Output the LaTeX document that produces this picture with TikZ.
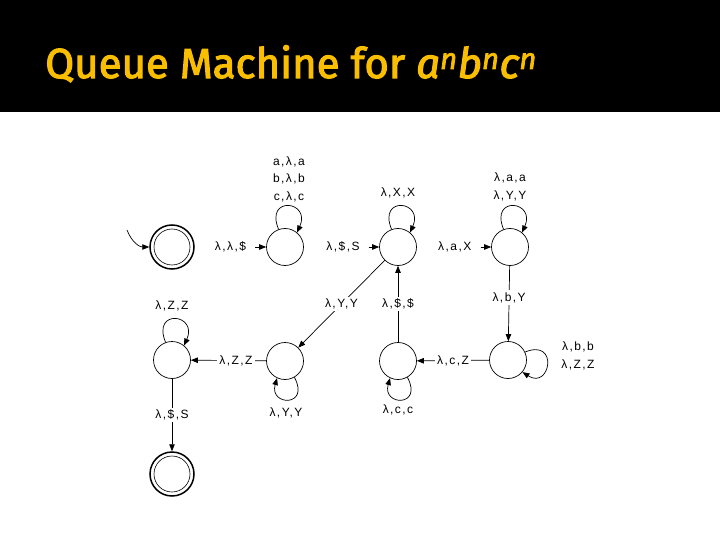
\documentclass[tikz,border=0pt]{standalone}
\usepackage{fontspec}
\setmainfont{Liberation Sans}[LetterSpace=12]
\newfontfamily\titlefont{Fira Sans}[FakeBold=2.5]
\usetikzlibrary{arrows.meta}
\definecolor{gold}{RGB}{250,190,0}
\begin{document}
\begin{tikzpicture}[x=1pt,y=-1pt,
  st/.style={circle,draw,minimum size=37pt,inner sep=0pt,line width=0.7pt},
  acc/.style={circle,draw,minimum size=44pt,inner sep=0pt,line width=1.5pt},
  arr/.style={-{Triangle[length=7pt,width=5.5pt]},line width=0.7pt},
  lab/.style={fill=white,inner sep=2pt,font=\fontsize{12}{17.5}\selectfont,align=center},
  txt/.style={inner sep=1pt,font=\fontsize{12}{17.5}\selectfont,align=center}]
\useasboundingbox (0,0) rectangle (720,540);
\fill[black] (0,0) rectangle (720,112);
\node[anchor=base west,text=gold,inner sep=0pt,font=\titlefont\fontsize{42}{50}\selectfont] (title) at (45,78)
  {Queue Machine for \textit{a\textsuperscript{n}b\textsuperscript{n}c\textsuperscript{n}}};
% states
\node[acc] (n1) at (172,247) {};
\draw[line width=0.6pt] (n1.center) circle[radius=18pt];
\node[st] (n2) at (285,247) {};
\node[st] (n3) at (398,247) {};
\node[st] (n4) at (510,247) {};
\node[st] (n5) at (172,360) {};
\node[st] (n6) at (285,361) {};
\node[st] (n7) at (398,361) {};
\node[st] (n8) at (508,360) {};
\node[acc] (n9) at (172,474) {};
\draw[line width=0.6pt] (n9.center) circle[radius=18pt];
% start arrow
\coordinate (s0) at (127,230);
\draw[arr] (s0) .. controls (132,243) and (140,247) .. (n1.west);
% top row
\path (n1) -- node[txt,pos=0.5] (l12) {λ,λ,\$} (n2);
\draw[arr,shorten <=8pt] (l12) -- (n2);
\path (n2) -- node[txt,pos=0.52] (l23) {λ,\$,S} (n3);
\draw[arr,shorten <=8pt] (l23) -- (n3);
\path (n3) -- node[txt,pos=0.51] (l34) {λ,a,X} (n4);
\draw[arr,shorten <=8pt] (l34) -- (n4);
% vertical / diagonal
\draw[arr] (n4) -- node[lab,pos=0.42] {λ,b,Y} (n8);
\draw[arr] (n7) -- node[lab,pos=0.5] {λ,\$,\$} (n3);
\draw[arr] (n3) -- node[lab,pos=0.5] {λ,Y,Y} (n6);
\draw[arr] (n8) -- node[lab,pos=0.5] {λ,c,Z} (n7);
\draw[arr] (n6) -- node[lab,pos=0.4] {λ,Z,Z} (n5);
\draw[arr] (n5) -- node[lab,pos=0.5] {λ,\$,S} (n9);
% loops
\draw[arr] (n2.110) .. controls +(-14,-34) and +(14,-32) .. (n2.50);
\draw[arr] (n3.110) .. controls +(-14,-34) and +(14,-32) .. (n3.50);
\draw[arr] (n4.110) .. controls +(-14,-34) and +(14,-32) .. (n4.50);
\draw[arr] (n5.110) .. controls +(-14,-34) and +(14,-32) .. (n5.50);
\draw[arr] (n6.-60) .. controls +(16,30) and +(-8,28) .. (n6.-115);
\draw[arr] (n7.-60) .. controls +(16,30) and +(-8,28) .. (n7.-115);
\draw[arr] (n8.25) .. controls +(34,-14) and +(28,18) .. (n8.-40);
% loop labels
\node[txt] (t2) at (289,179) {a,λ,a\\b,λ,b\\c,λ,c};
\node[txt] (t3) at (398,193) {λ,X,X};
\node[txt] (t4) at (510,187) {λ,a,a\\λ,Y,Y};
\node[txt] (t5) at (172,306) {λ,Z,Z};
\node[txt] (t6) at (286,413) {λ,Y,Y};
\node[txt] (t7) at (398,410) {λ,c,c};
\node[txt] (t8) at (578,356) {λ,b,b\\λ,Z,Z};
\end{tikzpicture}
\end{document}
